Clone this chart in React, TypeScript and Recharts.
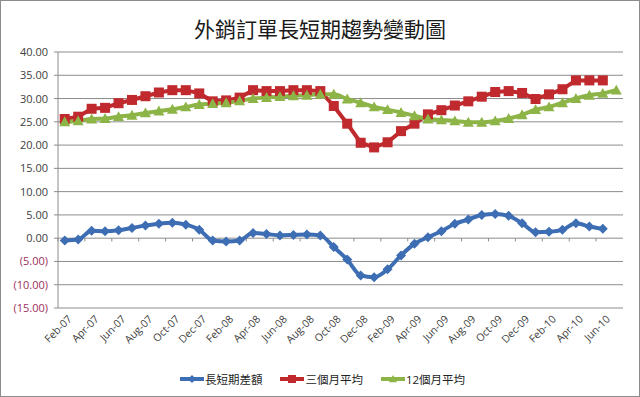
import {
  ComposedChart,
  Line,
  XAxis,
  YAxis,
  CartesianGrid,
  Legend,
  ReferenceLine,
} from 'recharts';

// Feb-07 .. Jul-10
const months = [
  'Feb-07', 'Mar-07', 'Apr-07', 'May-07', 'Jun-07', 'Jul-07', 'Aug-07', 'Sep-07', 'Oct-07', 'Nov-07', 'Dec-07',
  'Jan-08', 'Feb-08', 'Mar-08', 'Apr-08', 'May-08', 'Jun-08', 'Jul-08', 'Aug-08', 'Sep-08', 'Oct-08', 'Nov-08', 'Dec-08',
  'Jan-09', 'Feb-09', 'Mar-09', 'Apr-09', 'May-09', 'Jun-09', 'Jul-09', 'Aug-09', 'Sep-09', 'Oct-09', 'Nov-09', 'Dec-09',
  'Jan-10', 'Feb-10', 'Mar-10', 'Apr-10', 'May-10', 'Jun-10', 'Jul-10',
];

// 長短期差額
const diffValues = [
  -0.5, -0.3, 1.6, 1.5, 1.7, 2.2, 2.7, 3.1, 3.3, 2.9, 1.8,
  -0.5, -0.7, -0.5, 1.1, 0.9, 0.6, 0.7, 0.8, 0.6, -1.9, -4.6, -8.0,
  -8.4, -6.7, -3.7, -1.2, 0.2, 1.5, 3.1, 4.0, 5.0, 5.2, 4.8, 3.2,
  1.3, 1.4, 1.8, 3.2, 2.5, 2.0,
];

// 三個月平均
const avg3Values = [
  25.6, 26.1, 27.8, 28.0, 29.0, 29.7, 30.5, 31.3, 31.8, 31.8, 31.1,
  29.4, 29.6, 30.2, 31.8, 31.6, 31.6, 31.8, 31.8, 31.6, 28.4, 24.6, 20.5,
  19.5, 20.6, 23.0, 24.6, 26.6, 27.5, 28.5, 29.4, 30.4, 31.4, 31.6, 31.2,
  29.9, 30.9, 32.0, 33.9, 33.9, 33.9,
];

// 12個月平均
const avg12Values = [
  25.0, 25.2, 25.6, 25.7, 26.1, 26.4, 26.9, 27.3, 27.7, 28.2, 28.7,
  28.9, 29.1, 29.5, 30.0, 30.2, 30.4, 30.6, 30.7, 30.9, 30.9, 29.9, 29.1,
  28.2, 27.6, 27.0, 26.3, 25.6, 25.4, 25.2, 24.9, 24.9, 25.2, 25.7, 26.5,
  27.6, 28.2, 29.1, 30.0, 30.7, 31.1, 31.8,
];

const yTicks = [-15, -10, -5, 0, 5, 10, 15, 20, 25, 30, 35, 40];

const BLUE = '#3d6db3';
const RED = '#c0292d';
const GREEN = '#8db446';
const FONT = '"Open Sans", "Noto Sans CJK TC", sans-serif';

const data = months.map((m, i) => ({
  month: m,
  diff: diffValues[i] ?? null,
  avg3: avg3Values[i] ?? null,
  avg12: avg12Values[i] ?? null,
}));

// labelled months, where Excel puts its small tick marks on the zero line
const tickMonths = months.filter((_, i) => i % 2 === 0 && i < 41);

const legendOrder = ['diff', 'avg3', 'avg12'];

function fmt(v: number) {
  const s = Math.abs(v).toFixed(2);
  return v < 0 ? `(${s})` : s;
}

function YTick({ x, y, payload }: any) {
  const v = payload.value as number;
  return (
    <text
      x={x}
      y={y}
      dy={4}
      textAnchor="end"
      fill={v < 0 ? '#9c2f5c' : '#404040'}
      fontSize={11}
      fontFamily={FONT}
    >
      {fmt(v)}
    </text>
  );
}

function XTick({ x, y, payload }: any) {
  return (
    <g transform={`translate(${x + 5},${y + 1}) rotate(-45)`}>
      <text x={0} y={0} dy={4} textAnchor="end" fill="#404040" fontSize={10.5} fontFamily={FONT}>
        {payload.value}
      </text>
    </g>
  );
}

function Diamond({ cx, cy, color, r = 5 }: any) {
  if (cx == null || cy == null) return null;
  return (
    <polygon
      points={`${cx},${cy - r} ${cx + r},${cy} ${cx},${cy + r} ${cx - r},${cy}`}
      fill={color}
    />
  );
}

function Square({ cx, cy, color, r = 5 }: any) {
  if (cx == null || cy == null) return null;
  return <rect x={cx - r} y={cy - r} width={r * 2} height={r * 2} fill={color} />;
}

function Triangle({ cx, cy, color, r = 5.5 }: any) {
  if (cx == null || cy == null) return null;
  return (
    <polygon
      points={`${cx},${cy - r} ${cx + r},${cy + r * 0.8} ${cx - r},${cy + r * 0.8}`}
      fill={color}
    />
  );
}

const shapes: Record<string, any> = { diff: Diamond, avg3: Square, avg12: Triangle };

function LegendContent({ payload }: any) {
  const items = [...(payload || [])].sort(
    (a: any, b: any) => legendOrder.indexOf(a.dataKey) - legendOrder.indexOf(b.dataKey)
  );
  return (
    <div
      style={{
        display: 'flex',
        justifyContent: 'center',
        gap: 18,
        paddingTop: 6,
        paddingLeft: 22,
        fontFamily: FONT,
      }}
    >
      {items.map((p: any) => {
        const Shape = shapes[p.dataKey];
        return (
          <div key={p.dataKey} style={{ display: 'flex', alignItems: 'center' }}>
            <svg width={24} height={12}>
              <line x1={0} y1={6} x2={24} y2={6} stroke={p.color} strokeWidth={4} />
              <Shape cx={12} cy={6} color={p.color} r={4} />
            </svg>
            <span style={{ fontSize: 11.5, color: '#222', marginLeft: 1 }}>{p.value}</span>
          </div>
        );
      })}
    </div>
  );
}

export default function App() {
  return (
    <div style={{ position: 'absolute', left: 0, top: 0, width: 640, height: 397, background: '#fff' }}>
      <div
        style={{
          position: 'absolute',
          top: 12,
          left: 0,
          width: 640,
          textAlign: 'center',
          fontSize: 21,
          lineHeight: '32px',
          fontFamily: '"Noto Sans CJK TC", sans-serif',
          color: '#1a1a1a',
        }}
      >
        外銷訂單長短期趨勢變動圖
      </div>
      <div style={{ position: 'absolute', left: 0, top: 0 }}>
        <ComposedChart
          width={640}
          height={397}
          data={data}
          margin={{ top: 52, right: 17, bottom: 6, left: 0 }}
        >
          <CartesianGrid vertical={false} stroke="#8c8c8c" strokeWidth={1} />
          <XAxis
            dataKey="month"
            scale="band"
            interval={1}
            axisLine={false}
            tickLine={false}
            height={57}
            tick={<XTick />}
          />
          <YAxis
            domain={[-15, 40]}
            ticks={yTicks}
            width={58}
            axisLine={{ stroke: '#8c8c8c' }}
            tickLine={{ stroke: '#8c8c8c' }}
            tickSize={4}
            tickMargin={6}
            tick={<YTick />}
            allowDataOverflow
          />
          {tickMonths.map((m) => (
            <ReferenceLine
              key={m}
              segment={[
                { x: m, y: 0 },
                { x: m, y: -0.7 },
              ]}
              position="start"
              stroke="#8c8c8c"
            />
          ))}
          <Legend verticalAlign="bottom" height={26} content={<LegendContent />} />
          <Line
            name="長短期差額"
            dataKey="diff"
            type="monotone"
            stroke={BLUE}
            strokeWidth={4}
            dot={(p: any) => <Diamond key={p.index} cx={p.cx} cy={p.cy} color={BLUE} r={5} />}
            activeDot={false}
            isAnimationActive={false}
          />
          <Line
            name="三個月平均"
            dataKey="avg3"
            type="linear"
            stroke={RED}
            strokeWidth={4}
            dot={(p: any) => <Square key={p.index} cx={p.cx} cy={p.cy} color={RED} r={5} />}
            activeDot={false}
            isAnimationActive={false}
          />
          <Line
            name="12個月平均"
            dataKey="avg12"
            type="monotone"
            stroke={GREEN}
            strokeWidth={4}
            dot={(p: any) => <Triangle key={p.index} cx={p.cx} cy={p.cy} color={GREEN} r={5.5} />}
            activeDot={false}
            isAnimationActive={false}
          />
        </ComposedChart>
      </div>
      <div
        style={{
          position: 'absolute',
          inset: 0,
          border: '1px solid #8c8c8c',
          pointerEvents: 'none',
        }}
      />
    </div>
  );
}
